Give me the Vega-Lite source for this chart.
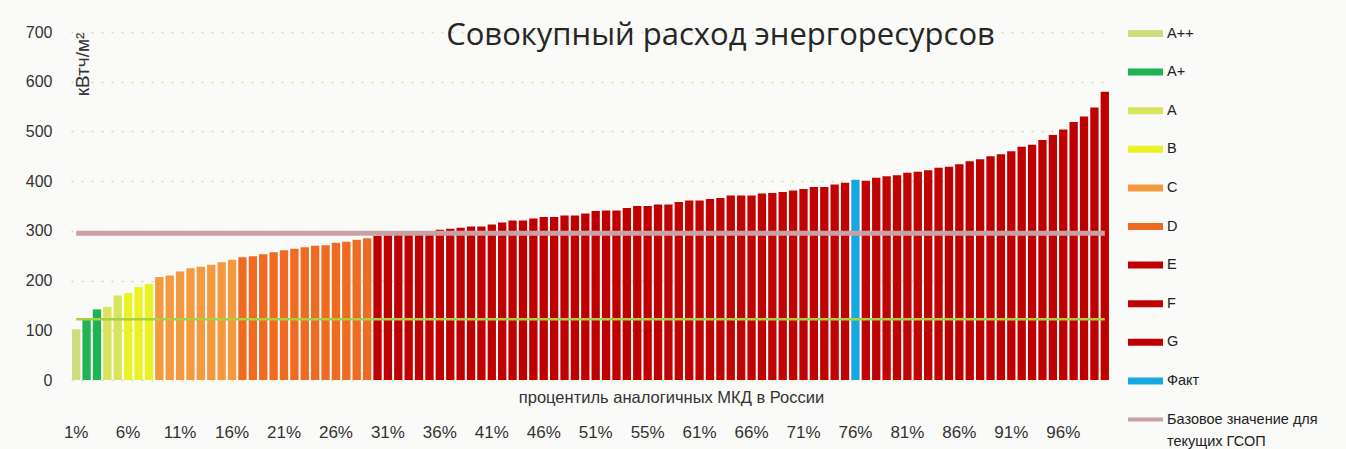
{
  "$schema": "https://vega.github.io/schema/vega-lite/v6.json",
  "width": 1039,
  "height": 348,
  "autosize": {"type": "none"},
  "padding": {"left": 71, "top": 32, "right": 236, "bottom": 69},
  "background": "#fafaf8",
  "title": {
    "text": "Совокупный расход энергоресурсов",
    "font": "Open Sans",
    "fontSize": 31,
    "fontWeight": "normal",
    "color": "#262626",
    "anchor": "middle",
    "frame": "group",
    "baseline": "alphabetic",
    "offset": 0,
    "dx": 130,
    "dy": 60
  },
  "config": {
    "view": {"stroke": null},
    "axis": {"labelFont": "Liberation Sans", "titleFont": "Liberation Sans"}
  },
  "data": {
    "values": [
      {"n": 1, "v": 102, "cls": "A++", "base": 295, "green": 122},
      {"n": 2, "v": 122, "cls": "A+", "base": 295, "green": 122},
      {"n": 3, "v": 142, "cls": "A+", "base": 295, "green": 122},
      {"n": 4, "v": 147, "cls": "A", "base": 295, "green": 122},
      {"n": 5, "v": 170, "cls": "A", "base": 295, "green": 122},
      {"n": 6, "v": 175, "cls": "B", "base": 295, "green": 122},
      {"n": 7, "v": 187, "cls": "B", "base": 295, "green": 122},
      {"n": 8, "v": 193, "cls": "B", "base": 295, "green": 122},
      {"n": 9, "v": 207, "cls": "C", "base": 295, "green": 122},
      {"n": 10, "v": 210, "cls": "C", "base": 295, "green": 122},
      {"n": 11, "v": 218, "cls": "C", "base": 295, "green": 122},
      {"n": 12, "v": 225, "cls": "C", "base": 295, "green": 122},
      {"n": 13, "v": 228, "cls": "C", "base": 295, "green": 122},
      {"n": 14, "v": 232, "cls": "C", "base": 295, "green": 122},
      {"n": 15, "v": 237, "cls": "C", "base": 295, "green": 122},
      {"n": 16, "v": 242, "cls": "C", "base": 295, "green": 122},
      {"n": 17, "v": 247, "cls": "D", "base": 295, "green": 122},
      {"n": 18, "v": 249, "cls": "D", "base": 295, "green": 122},
      {"n": 19, "v": 253, "cls": "D", "base": 295, "green": 122},
      {"n": 20, "v": 257, "cls": "D", "base": 295, "green": 122},
      {"n": 21, "v": 261, "cls": "D", "base": 295, "green": 122},
      {"n": 22, "v": 264, "cls": "D", "base": 295, "green": 122},
      {"n": 23, "v": 267, "cls": "D", "base": 295, "green": 122},
      {"n": 24, "v": 270, "cls": "D", "base": 295, "green": 122},
      {"n": 25, "v": 271, "cls": "D", "base": 295, "green": 122},
      {"n": 26, "v": 276, "cls": "D", "base": 295, "green": 122},
      {"n": 27, "v": 278, "cls": "D", "base": 295, "green": 122},
      {"n": 28, "v": 282, "cls": "D", "base": 295, "green": 122},
      {"n": 29, "v": 285, "cls": "D", "base": 295, "green": 122},
      {"n": 30, "v": 290, "cls": "E", "base": 295, "green": 122},
      {"n": 31, "v": 291, "cls": "E", "base": 295, "green": 122},
      {"n": 32, "v": 293, "cls": "E", "base": 295, "green": 122},
      {"n": 33, "v": 295, "cls": "E", "base": 295, "green": 122},
      {"n": 34, "v": 297, "cls": "E", "base": 295, "green": 122},
      {"n": 35, "v": 299, "cls": "E", "base": 295, "green": 122},
      {"n": 36, "v": 302, "cls": "E", "base": 295, "green": 122},
      {"n": 37, "v": 304, "cls": "E", "base": 295, "green": 122},
      {"n": 38, "v": 306, "cls": "E", "base": 295, "green": 122},
      {"n": 39, "v": 309, "cls": "E", "base": 295, "green": 122},
      {"n": 40, "v": 309, "cls": "E", "base": 295, "green": 122},
      {"n": 41, "v": 313, "cls": "E", "base": 295, "green": 122},
      {"n": 42, "v": 317, "cls": "E", "base": 295, "green": 122},
      {"n": 43, "v": 321, "cls": "E", "base": 295, "green": 122},
      {"n": 44, "v": 321, "cls": "E", "base": 295, "green": 122},
      {"n": 45, "v": 325, "cls": "E", "base": 295, "green": 122},
      {"n": 46, "v": 328, "cls": "E", "base": 295, "green": 122},
      {"n": 47, "v": 328, "cls": "E", "base": 295, "green": 122},
      {"n": 48, "v": 331, "cls": "E", "base": 295, "green": 122},
      {"n": 49, "v": 331, "cls": "E", "base": 295, "green": 122},
      {"n": 50, "v": 335, "cls": "E", "base": 295, "green": 122},
      {"n": 51, "v": 340, "cls": "E", "base": 295, "green": 122},
      {"n": 52, "v": 341, "cls": "E", "base": 295, "green": 122},
      {"n": 53, "v": 341, "cls": "E", "base": 295, "green": 122},
      {"n": 54, "v": 346, "cls": "E", "base": 295, "green": 122},
      {"n": 55, "v": 350, "cls": "E", "base": 295, "green": 122},
      {"n": 56, "v": 350, "cls": "E", "base": 295, "green": 122},
      {"n": 57, "v": 353, "cls": "E", "base": 295, "green": 122},
      {"n": 58, "v": 353, "cls": "F", "base": 295, "green": 122},
      {"n": 59, "v": 358, "cls": "F", "base": 295, "green": 122},
      {"n": 60, "v": 361, "cls": "F", "base": 295, "green": 122},
      {"n": 61, "v": 361, "cls": "F", "base": 295, "green": 122},
      {"n": 62, "v": 364, "cls": "F", "base": 295, "green": 122},
      {"n": 63, "v": 366, "cls": "F", "base": 295, "green": 122},
      {"n": 64, "v": 371, "cls": "F", "base": 295, "green": 122},
      {"n": 65, "v": 371, "cls": "F", "base": 295, "green": 122},
      {"n": 66, "v": 371, "cls": "F", "base": 295, "green": 122},
      {"n": 67, "v": 375, "cls": "F", "base": 295, "green": 122},
      {"n": 68, "v": 376, "cls": "F", "base": 295, "green": 122},
      {"n": 69, "v": 378, "cls": "F", "base": 295, "green": 122},
      {"n": 70, "v": 381, "cls": "F", "base": 295, "green": 122},
      {"n": 71, "v": 384, "cls": "F", "base": 295, "green": 122},
      {"n": 72, "v": 388, "cls": "F", "base": 295, "green": 122},
      {"n": 73, "v": 388, "cls": "F", "base": 295, "green": 122},
      {"n": 74, "v": 393, "cls": "F", "base": 295, "green": 122},
      {"n": 75, "v": 397, "cls": "F", "base": 295, "green": 122},
      {"n": 76, "v": 403, "cls": "Факт", "base": 295, "green": 122},
      {"n": 77, "v": 401, "cls": "F", "base": 295, "green": 122},
      {"n": 78, "v": 407, "cls": "F", "base": 295, "green": 122},
      {"n": 79, "v": 410, "cls": "F", "base": 295, "green": 122},
      {"n": 80, "v": 412, "cls": "F", "base": 295, "green": 122},
      {"n": 81, "v": 417, "cls": "F", "base": 295, "green": 122},
      {"n": 82, "v": 419, "cls": "F", "base": 295, "green": 122},
      {"n": 83, "v": 422, "cls": "F", "base": 295, "green": 122},
      {"n": 84, "v": 427, "cls": "F", "base": 295, "green": 122},
      {"n": 85, "v": 429, "cls": "G", "base": 295, "green": 122},
      {"n": 86, "v": 434, "cls": "G", "base": 295, "green": 122},
      {"n": 87, "v": 440, "cls": "G", "base": 295, "green": 122},
      {"n": 88, "v": 444, "cls": "G", "base": 295, "green": 122},
      {"n": 89, "v": 450, "cls": "G", "base": 295, "green": 122},
      {"n": 90, "v": 454, "cls": "G", "base": 295, "green": 122},
      {"n": 91, "v": 460, "cls": "G", "base": 295, "green": 122},
      {"n": 92, "v": 469, "cls": "G", "base": 295, "green": 122},
      {"n": 93, "v": 473, "cls": "G", "base": 295, "green": 122},
      {"n": 94, "v": 483, "cls": "G", "base": 295, "green": 122},
      {"n": 95, "v": 493, "cls": "G", "base": 295, "green": 122},
      {"n": 96, "v": 504, "cls": "G", "base": 295, "green": 122},
      {"n": 97, "v": 519, "cls": "G", "base": 295, "green": 122},
      {"n": 98, "v": 530, "cls": "G", "base": 295, "green": 122},
      {"n": 99, "v": 548, "cls": "G", "base": 295, "green": 122},
      {"n": 100, "v": 580, "cls": "G", "base": 295, "green": 122}
    ]
  },
  "encoding": {
    "x": {
      "field": "n",
      "type": "ordinal",
      "scale": {"paddingInner": 0.2, "paddingOuter": 0.1},
      "axis": {
        "values": [1, 6, 11, 16, 21, 26, 31, 36, 41, 46, 51, 56, 61, 66, 71, 76, 81, 86, 91, 96],
        "labelExpr": "datum.value == 56 ? '55%' : datum.value + '%'",
        "labelAngle": 0,
        "labelFontSize": 17,
        "labelColor": "#333333",
        "labelPadding": 44,
        "labelBaseline": "top",
        "ticks": false,
        "domain": false,
        "title": "процентиль аналогичных МКД в России",
        "titleFontSize": 16.5,
        "titleFontWeight": "normal",
        "titleColor": "#333333",
        "titleX": 600,
        "titleY": 17,
        "titleAlign": "center",
        "titleBaseline": "middle"
      }
    }
  },
  "layer": [
    {
      "mark": {"type": "bar"},
      "encoding": {
        "y": {
          "field": "v",
          "type": "quantitative",
          "scale": {"domain": [0, 700]},
          "axis": {
            "values": [0, 100, 200, 300, 400, 500, 600, 700],
            "labelFontSize": 16,
            "labelColor": "#333333",
            "labelPadding": 19,
            "ticks": false,
            "domain": false,
            "grid": true,
            "gridColor": "#d6df96",
            "gridDash": [2, 8],
            "gridWidth": 1.5,
            "title": "кВтч/м²",
            "titleFontSize": 19,
            "titleFontWeight": "normal",
            "titleColor": "#333333",
            "titleAngle": -90,
            "titleX": 11,
            "titleY": 32,
            "titleAlign": "center",
            "titleBaseline": "middle"
          }
        },
        "color": {
          "field": "cls",
          "type": "nominal",
          "scale": {
            "domain": ["A++", "A+", "A", "B", "C", "D", "E", "F", "G", "Факт", "Базовое значение для текущих ГСОП"],
            "range": ["#cfdd7c", "#1fb356", "#d8e45c", "#eaf226", "#f4993e", "#ef6b22", "#c00000", "#c00303", "#bf0000", "#16a9e1", "#c9a0a3"]
          },
          "legend": {
            "orient": "none",
            "legendX": 1057,
            "legendY": -16,
            "title": null,
            "padding": 0,
            "symbolType": "M-1,-0.2H1V0.2H-1Z",
            "symbolSize": 1225,
            "symbolStrokeWidth": 0,
            "labelFont": "Liberation Sans",
            "labelFontSize": 14.5,
            "labelColor": "#222222",
            "labelOffset": 4,
            "labelLimit": 300,
            "rowPadding": 14.6,
            "labelExpr": "datum.label == 'Базовое значение для текущих ГСОП' ? ['Базовое значение для', 'текущих ГСОП'] : datum.label",
            "encode": {
              "labels": {"update": {"lineHeight": {"value": 22}}},
              "symbols": {"update": {"shape": {"signal": "datum.value == 'Базовое значение для текущих ГСОП' ? 'M-1,-0.12H1V0.12H-1Z' : 'M-1,-0.2H1V0.2H-1Z'"}}}
            }
          }
        }
      }
    },
    {
      "mark": {"type": "line", "strokeWidth": 5},
      "encoding": {
        "y": {"field": "base", "type": "quantitative"},
        "color": {"datum": "Базовое значение для текущих ГСОП", "type": "nominal"}
      }
    },
    {
      "mark": {"type": "line", "strokeWidth": 2.5, "color": "#a8d040"},
      "encoding": {
        "y": {"field": "green", "type": "quantitative"}
      }
    }
  ]
}
